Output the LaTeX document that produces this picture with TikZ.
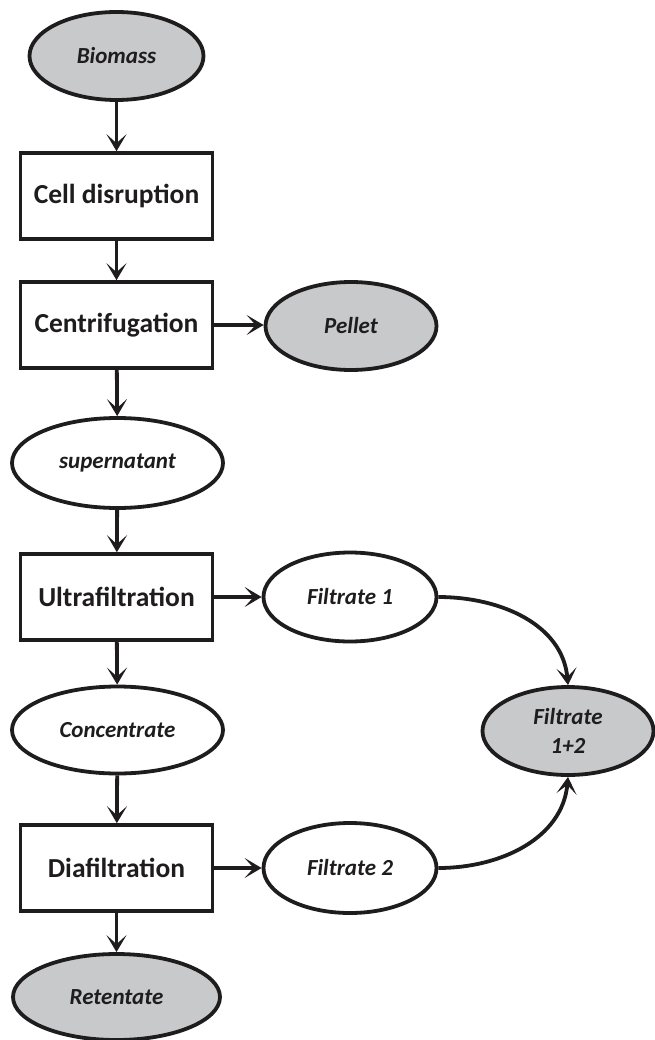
\documentclass[tikz,border=0pt]{standalone}
\usepackage{fontspec}
\setmainfont{Carlito}[Ligatures={Common,Rare}]
\usetikzlibrary{shapes.geometric,arrows.meta}
\definecolor{fillgray}{RGB}{200,201,203}
\definecolor{ink}{RGB}{30,28,28}
\begin{document}
\begin{tikzpicture}[x=1pt,y=1pt,
  stepbox/.style={draw=ink, line width=3.6pt, minimum width=192pt, minimum height=86pt, inner sep=0pt, font=\fontsize{27.5}{30}\selectfont\bfseries, text=ink},
  oval/.style={ellipse, draw=ink, line width=3.8pt, inner sep=0pt, font=\fontsize{23}{29}\selectfont\bfseries\itshape, text=ink, align=center},
  grayoval/.style={oval, fill=fillgray},
  arr/.style={draw=ink, line width=3.8pt, -{Stealth[length=17pt,width=20pt,inset=9pt]}}
]
\useasboundingbox (0,0) rectangle (654,-1040);

\node[grayoval, minimum width=174pt, minimum height=88pt] (bio) at (116.5,-56) {Biomass};
\node[stepbox] (cell) at (116.5,-196) {Cell disruption};
\node[stepbox] (centr) at (116.5,-325) {Centrifugation};
\node[grayoval, minimum width=171pt, minimum height=88pt] (pellet) at (351,-326) {Pellet};
\node[oval, minimum width=211pt, minimum height=90pt] (super) at (117.5,-463) {supernatant};
\node[stepbox] (ultra) at (116.5,-597) {Ultrafiltration};
\node[oval, minimum width=173pt, minimum height=89pt] (f1) at (350,-597) {Filtrate 1};
\node[oval, minimum width=211pt, minimum height=87pt] (conc) at (117.5,-730) {Concentrate};
\node[grayoval, minimum width=171pt, minimum height=88pt] (f12) at (568,-731) {Filtrate\\1+2};
\node[stepbox] (dia) at (116.5,-868) {Diafiltration};
\node[oval, minimum width=173pt, minimum height=90pt] (f2) at (350,-868) {Filtrate 2};
\node[grayoval, minimum width=207pt, minimum height=86pt] (ret) at (116.5,-997) {Retentate};

\draw[arr] (bio) -- (cell);
\draw[arr] (cell) -- (centr);
\draw[arr] (centr) -- (pellet.west |- centr.east);
\draw[arr] (centr) -- (super);
\draw[arr] (super) -- (ultra);
\draw[arr] (ultra) -- (f1);
\draw[arr] (ultra) -- (conc);
\draw[arr] (conc) -- (dia);
\draw[arr] (dia) -- (f2);
\draw[arr] (dia) -- (ret);
\draw[arr] (f1.east) to[out=0,in=95] (f12.north);
\draw[arr] (f2.east) to[out=0,in=-95] (f12.south);
\end{tikzpicture}
\end{document}
